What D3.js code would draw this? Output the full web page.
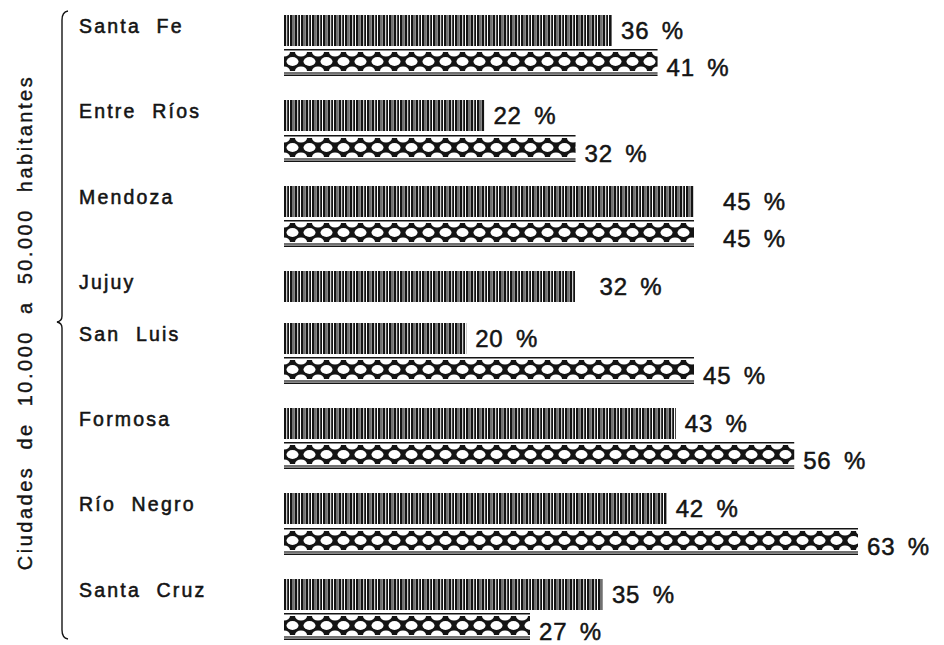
<!DOCTYPE html>
<html>
<head>
<meta charset="utf-8">
<script src="https://cdn.jsdelivr.net/npm/d3@7"></script>
<style>
  html, body { margin: 0; padding: 0; background: #fff; }
  svg { display: block; }
</style>
</head>
<body>
<script>
// ---- data ----
const cities = ["Santa Fe", "Entre Ríos", "Mendoza", "Jujuy", "San Luis", "Formosa", "Río Negro", "Santa Cruz"];
const seriesStriped = [36, 22, 45, 32, 20, 43, 42, 35];
const seriesLattice = [41, 32, 45, null, 45, 56, 63, 27];
const axisTitle = "Ciudades de 10.000 a 50.000 habitantes";
const valueSuffix = " %";

(function () {
// ---- layout ----
const W = 944, H = 645;
const svg = d3.select("body").append("svg").attr("width", W).attr("height", H);
const defs = svg.append("defs");
const ink = "#141414";

// striped (barcode) pattern
const ps = defs.append("pattern").attr("id", "stripes").attr("patternUnits", "userSpaceOnUse")
  .attr("width", 11).attr("height", 40);
ps.append("rect").attr("width", 11).attr("height", 40).attr("fill", "#fff");
[[0, 2.2], [3.2, 1.8], [6, 2.6], [9.4, 1.1]].forEach(([px, w]) =>
  ps.append("rect").attr("x", px).attr("y", 0).attr("width", w).attr("height", 40).attr("fill", ink));

// lattice pattern
const tw = 17, th = 19;
const pl = defs.append("pattern").attr("id", "lattice").attr("patternUnits", "userSpaceOnUse")
  .attr("width", tw).attr("height", th);
pl.append("rect").attr("width", tw).attr("height", th).attr("fill", ink);
pl.append("ellipse").attr("cx", tw / 2).attr("cy", th / 2).attr("rx", 6.0).attr("ry", 4.4).attr("fill", "#fff");
[[0, 0], [tw, 0], [0, th], [tw, th]].forEach(([cx, cy]) =>
  pl.append("ellipse").attr("cx", cx).attr("cy", cy).attr("rx", 6.0).attr("ry", 4.6).attr("fill", "#fff"));

// slot positions: each city takes as many slots as bars, plus a half-slot gap
const rows = [];
let cursor = 0;
cities.forEach((c, i) => {
  const start = cursor;
  const bars = [];
  bars.push({ city: c, kind: "stripes", value: seriesStriped[i], slot: cursor, first: true }); cursor += 1;
  if (seriesLattice[i] != null) {
    bars.push({ city: c, kind: "lattice", value: seriesLattice[i], slot: cursor, first: false }); cursor += 1;
  }
  rows.push({ city: c, start, bars });
  cursor += 0.5;
});

const x = d3.scaleLinear().domain([0, 63]).range([284, 858]);
const y = d3.scaleLinear().domain([0, 1]).range([15, 49.17]);
const stripeH = 31, latticeH = 27;

const labelNudge = { "Mendoza": 20, "Jujuy": 15 };

const font = "'Liberation Sans', Arial, Helvetica, sans-serif";

// city labels
svg.append("g").selectAll("text").data(rows).join("text")
  .attr("x", 79)
  .attr("y", d => y(d.start) + 18)
  .attr("font-family", font).attr("font-size", 19.5)
  .attr("letter-spacing", 2.2).attr("word-spacing", 8)
  .attr("fill", ink).attr("stroke", ink).attr("stroke-width", 0.55)
  .text(d => d.city);

// bars (each drawn in its own local frame so patterns line up the same way)
const allBars = rows.flatMap(r => r.bars);
const g = svg.append("g");
allBars.forEach(b => {
  const y0 = Math.round(y(b.slot)), x0 = x(0), w = x(b.value) - x(0);
  const bg = g.append("g").attr("transform", `translate(${x0},${y0})`);
  if (b.kind === "stripes") {
    bg.append("rect").attr("width", w).attr("height", stripeH).attr("fill", "url(#stripes)");
  } else {
    bg.append("rect").attr("y", 0).attr("width", w).attr("height", 1.5).attr("fill", ink);
    bg.append("g").attr("transform", "translate(0,3)")
      .append("rect").attr("width", w).attr("height", th).attr("fill", "url(#lattice)");
    bg.append("rect").attr("y", latticeH - 3.6).attr("width", w).attr("height", 1.2).attr("fill", ink);
    bg.append("rect").attr("y", latticeH - 1.5).attr("width", w).attr("height", 1.5).attr("fill", ink);
  }
});

// value labels
svg.append("g").selectAll("text").data(allBars).join("text")
  .attr("x", d => x(d.value) + 9 + (labelNudge[d.city] || 0))
  .attr("y", d => y(d.slot) + (d.first ? 24 : 27))
  .attr("font-family", font).attr("font-size", 24)
  .attr("letter-spacing", 0.8).attr("word-spacing", 5)
  .attr("fill", ink).attr("stroke", ink).attr("stroke-width", 0.5)
  .text(d => d.value + valueSuffix);

// brace
const bTop = 11, bMid = 322, bBot = 638, bx = 62;
const p = d3.path();
p.moveTo(bx + 6, bTop);
p.quadraticCurveTo(bx, bTop + 1, bx, bTop + 9);
p.lineTo(bx, bMid - 6);
p.quadraticCurveTo(bx, bMid - 1, bx - 5, bMid);
p.quadraticCurveTo(bx, bMid + 1, bx, bMid + 6);
p.lineTo(bx, bBot - 8);
p.quadraticCurveTo(bx, bBot, bx + 6, bBot + 1);
svg.append("path").attr("d", p.toString()).attr("fill", "none").attr("stroke", ink).attr("stroke-width", 1.4);

// axis title
svg.append("text")
  .attr("transform", `translate(32, ${(70 + 575) / 2}) rotate(-90)`)
  .attr("text-anchor", "middle")
  .attr("font-family", font).attr("font-size", 20)
  .attr("letter-spacing", 2.5).attr("word-spacing", 8)
  .attr("fill", ink).attr("stroke", ink).attr("stroke-width", 0.4)
  .text(axisTitle);
})();
</script>
</body>
</html>
